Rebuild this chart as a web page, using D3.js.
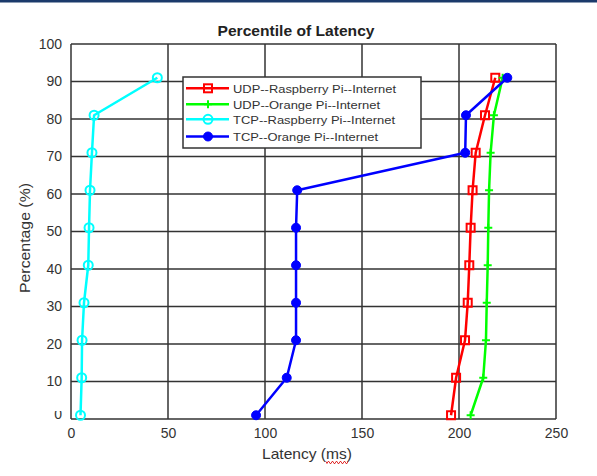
<!DOCTYPE html>
<html>
<head>
<meta charset="utf-8">
<script src="https://cdn.jsdelivr.net/npm/d3@7"></script>
<style>
  html, body { margin: 0; padding: 0; background: #fff; }
  svg { display: block; font-family: "Liberation Sans", Arial, sans-serif; }
</style>
</head>
<body>
<svg id="chart" width="597" height="476"></svg>
<script>
// Percentile levels (%) at which latency was sampled
const percentiles = [1, 11, 21, 31, 41, 51, 61, 71, 81, 91];

// Latency (ms) per route
const udpRaspberry = [195.9, 198.5, 203.1, 204.5, 205.3, 206.0, 207.0, 208.6, 213.4, 218.7];
const udpOrange    = [206.0, 212.5, 213.9, 214.3, 214.8, 215.1, 215.5, 216.3, 218.0, 222.5];
const tcpRaspberry = [4.9, 5.5, 5.7, 6.7, 8.9, 9.3, 9.8, 10.8, 11.9, 44.5];
const tcpOrange    = [95.4, 111.2, 116.0, 116.0, 116.0, 116.0, 116.6, 203.2, 203.6, 224.9];

const seriesNames = [
  "UDP--Raspberry Pi--Internet",
  "UDP--Orange Pi--Internet",
  "TCP--Raspberry Pi--Internet",
  "TCP--Orange Pi--Internet"
];
const seriesValues = [udpRaspberry, udpOrange, tcpRaspberry, tcpOrange];
const seriesColors = ["#ff0000", "#00ff00", "#00ffff", "#0000ff"];
const seriesMarkers = ["square", "plus", "circle", "dot"];

const xTicks = [0, 50, 100, 150, 200, 250];
const yTicks = [0, 10, 20, 30, 40, 50, 60, 70, 80, 90, 100];

const svg = d3.select("#chart");
const plotL = 71, plotR = 556, plotT = 44, plotB = 419;

const x = d3.scaleLinear().domain([0, 250]).range([plotL, plotR]);
const y = d3.scaleLinear().domain([0, 100]).range([plotB, plotT]);

const gridColor = "#333";
const textColor = "#333";
const fmt = d3.format("d");

// header rule
svg.append("rect").attr("x", 0).attr("y", 0).attr("width", 597).attr("height", 2.5).attr("fill", "#1b3a6b");

// grid lines (also form the frame)
const grid = svg.append("g");
grid.selectAll("line.gx").data(xTicks).join("line")
  .attr("x1", d => x(d)).attr("x2", d => x(d))
  .attr("y1", plotT).attr("y2", plotB)
  .attr("stroke", gridColor).attr("stroke-width", 1.5);
grid.selectAll("line.gy").data(yTicks).join("line")
  .attr("x1", plotL).attr("x2", plotR)
  .attr("y1", d => y(d)).attr("y2", d => y(d))
  .attr("stroke", gridColor).attr("stroke-width", 1.5);

// axes (labels only)
const xAxis = svg.append("g").attr("transform", `translate(0,${plotB})`)
  .call(d3.axisBottom(x).tickValues(xTicks).tickSize(0).tickPadding(9).tickFormat(fmt));
const yAxis = svg.append("g").attr("transform", `translate(${plotL},0)`)
  .call(d3.axisLeft(y).tickValues(yTicks.filter(d => d > 0)).tickSize(0).tickPadding(9).tickFormat(fmt));
[xAxis, yAxis].forEach(a => {
  a.select(".domain").remove();
  a.selectAll("text").attr("fill", textColor).style("font-size", "14px")
    .style("font-family", "'Liberation Sans', Arial, sans-serif");
});

// the lowest y label sits partly hidden under the axis row
svg.append("clipPath").attr("id", "y0clip").append("rect")
  .attr("x", 0).attr("y", 411).attr("width", plotL).attr("height", 20);
svg.append("text").attr("x", plotL - 9).attr("y", 418.5)
  .attr("text-anchor", "end").attr("clip-path", "url(#y0clip)")
  .attr("fill", textColor).style("font-size", "14px").text(fmt(yTicks[0]));

// title and axis titles
svg.append("text").attr("x", 296).attr("y", 36).attr("text-anchor", "middle")
  .attr("fill", "#222").style("font-size", "14.5px").style("font-weight", "bold")
  .attr("textLength", 157).attr("lengthAdjust", "spacingAndGlyphs").text("Percentile of Latency");
svg.append("text").attr("x", 307).attr("y", 458.5).attr("text-anchor", "middle")
  .attr("fill", textColor).style("font-size", "14.5px")
  .attr("textLength", 90).attr("lengthAdjust", "spacingAndGlyphs").text("Latency (ms)");
svg.append("text").attr("transform", "translate(30,238) rotate(-90)").attr("text-anchor", "middle")
  .attr("fill", textColor).style("font-size", "14.5px")
  .attr("textLength", 110).attr("lengthAdjust", "spacingAndGlyphs").text("Percentage (%)");

// spell-check squiggle under "ms"
const squiggle = d3.path();
squiggle.moveTo(326, 461.5);
for (let i = 0; i < 11; i++) {
  const sx = 326 + i * 2;
  squiggle.lineTo(sx + 1, i % 2 === 0 ? 463.5 : 461.5);
  squiggle.lineTo(sx + 2, i % 2 === 0 ? 461.5 : 463.5);
}
svg.append("path").attr("d", squiggle.toString()).attr("fill", "none")
  .attr("stroke", "#e03030").attr("stroke-width", 1);

// marker drawing
function drawMarker(g, type, color) {
  if (type === "square") {
    g.append("rect").attr("x", -4).attr("y", -4).attr("width", 8).attr("height", 8)
      .attr("fill", "none").attr("stroke", color).attr("stroke-width", 2);
  } else if (type === "plus") {
    g.append("path").attr("d", "M-4,0H4M0,-4V4").attr("stroke", color).attr("stroke-width", 2);
  } else if (type === "circle") {
    g.append("circle").attr("r", 4.5).attr("fill", "none").attr("stroke", color).attr("stroke-width", 2);
  } else {
    g.append("circle").attr("r", 4.5).attr("fill", color).attr("stroke", color).attr("stroke-width", 1);
  }
}

// series
const line = d3.line().x(d => x(d[0])).y(d => y(d[1]));
seriesValues.forEach((vals, i) => {
  const pts = vals.map((v, j) => [v, percentiles[j]]);
  const g = svg.append("g");
  g.append("path").attr("d", line(pts)).attr("fill", "none")
    .attr("stroke", seriesColors[i]).attr("stroke-width", 2.5).attr("stroke-linejoin", "round");
  pts.forEach(p => {
    const m = g.append("g").attr("transform", `translate(${x(p[0])},${y(p[1])})`);
    drawMarker(m, seriesMarkers[i], seriesColors[i]);
  });
});

// legend
const lg = svg.append("g").attr("transform", "translate(183,77)");
lg.append("rect").attr("width", 238).attr("height", 71).attr("fill", "#fff")
  .attr("stroke", "#333").attr("stroke-width", 1.5);
const rowY = [11.3, 27.3, 42.3, 59.5];
const rowW = [163, 147, 162, 145];
seriesNames.forEach((name, i) => {
  const r = lg.append("g").attr("transform", `translate(0,${rowY[i]})`);
  r.append("line").attr("x1", 3).attr("x2", 46).attr("y1", 0).attr("y2", 0)
    .attr("stroke", seriesColors[i]).attr("stroke-width", 2.5);
  const m = r.append("g").attr("transform", "translate(25,0)");
  drawMarker(m, seriesMarkers[i], seriesColors[i]);
  r.append("text").attr("x", 50).attr("y", 4.2).attr("fill", textColor)
    .style("font-size", "11.5px")
    .attr("textLength", rowW[i]).attr("lengthAdjust", "spacingAndGlyphs").text(name);
});
</script>
</body>
</html>
